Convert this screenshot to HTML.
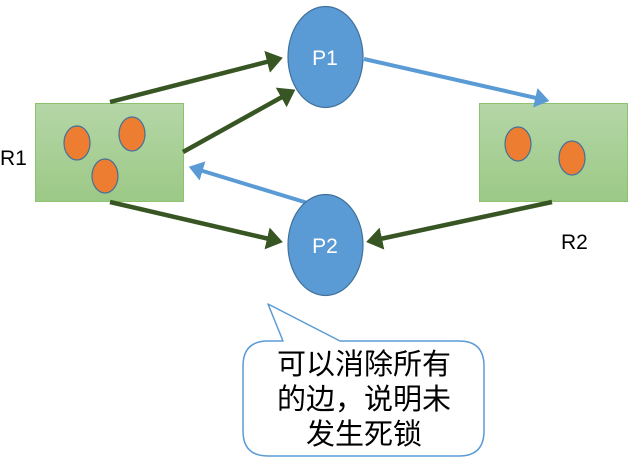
<!DOCTYPE html>
<html><head><meta charset="utf-8"><style>
html,body{margin:0;padding:0;background:#fff;}
svg{display:block;}
</style></head><body>
<svg width="640" height="469" viewBox="0 0 640 469" xmlns="http://www.w3.org/2000/svg">
<defs>
<linearGradient id="g" x1="0" y1="0" x2="0" y2="1">
<stop offset="0" stop-color="#b5d6a7"/><stop offset="1" stop-color="#9cc986"/>
</linearGradient>
<marker id="ag" markerWidth="6" markerHeight="6" refX="2.5" refY="3" orient="auto" markerUnits="strokeWidth"><path d="M0,0.5 L3.6,3 L0,5.5 Z" fill="#375623"/></marker>
<marker id="ab" markerWidth="6" markerHeight="6" refX="2.5" refY="3" orient="auto" markerUnits="strokeWidth"><path d="M0,0.5 L3.6,3 L0,5.5 Z" fill="#5b9bd5"/></marker>
</defs>
<rect x="35.5" y="103.5" width="148" height="98" fill="url(#g)" stroke="#8dc26f" stroke-width="1"/>
<rect x="479.5" y="103.5" width="148" height="98" fill="url(#g)" stroke="#8dc26f" stroke-width="1"/>
<g fill="#ed7d31" stroke="#41719c" stroke-width="1.2">
<ellipse cx="77" cy="143" rx="13" ry="17"/>
<ellipse cx="132" cy="134" rx="13" ry="17"/>
<ellipse cx="105" cy="176" rx="13" ry="17"/>
<ellipse cx="518" cy="144" rx="13" ry="17"/>
<ellipse cx="572" cy="158" rx="13" ry="17"/>
</g>
<g stroke="#375623" stroke-width="4.5" fill="none">
<line x1="110" y1="102" x2="278" y2="59" marker-end="url(#ag)"/>
<line x1="183" y1="152" x2="291" y2="92" marker-end="url(#ag)"/>
<line x1="110" y1="202" x2="278" y2="241" marker-end="url(#ag)"/>
<line x1="552" y1="202" x2="371" y2="241" marker-end="url(#ag)"/>
</g>
<g stroke="#5b9bd5" stroke-width="4" fill="none">
<line x1="364" y1="59" x2="545" y2="100" marker-end="url(#ab)"/>
<line x1="311" y1="204" x2="193" y2="168" marker-end="url(#ab)"/>
</g>
<ellipse cx="325.5" cy="57" rx="37.5" ry="50.5" fill="#5b9bd5" stroke="#41719c" stroke-width="1.2"/>
<ellipse cx="325.5" cy="245" rx="37.5" ry="50.5" fill="#5b9bd5" stroke="#41719c" stroke-width="1.2"/>
<g font-family="Liberation Sans, sans-serif" font-size="21">
<text x="325" y="65" fill="#fff" text-anchor="middle">P1</text>
<text x="325" y="253" fill="#fff" text-anchor="middle">P2</text>
<text x="0" y="165" fill="#000">R1</text>
<text x="561" y="249" fill="#000">R2</text>
</g>
<path d="M269,341 L283,341 L268,304 L340,341 L459,341 Q484,341 484,366 L484,431 Q484,456 459,456 L268,456 Q243,456 243,431 L243,366 Q243,341 268,341 Z" fill="#fff" stroke="#5b9bd5" stroke-width="1.5" stroke-linejoin="round"/>
<g font-family="Liberation Sans, 'Noto Sans CJK SC', sans-serif" font-size="29" text-anchor="middle" fill="#000">
<text x="364" y="374">可以消除所有</text>
<text x="364" y="409">的边，说明未</text>
<text x="364" y="444">发生死锁</text>
</g>
</svg>
</body></html>
